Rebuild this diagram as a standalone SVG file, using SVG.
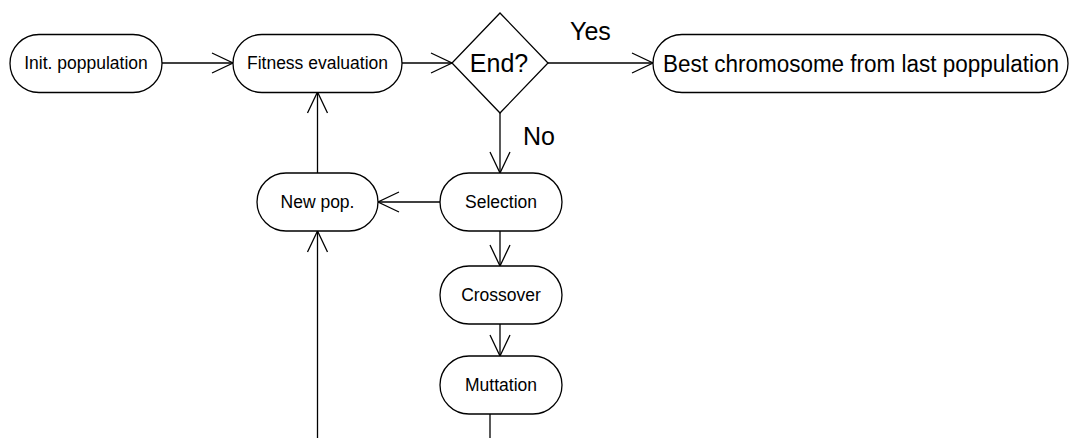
<svg xmlns="http://www.w3.org/2000/svg" width="1069" height="438" viewBox="0 0 1069 438">
<style>
.box{fill:#fff;stroke:#000;stroke-width:1.3}
.t{font-family:"Liberation Sans",Arial,sans-serif;font-size:17.5px;fill:#000;text-anchor:middle}
.big{font-family:"Liberation Sans",Arial,sans-serif;font-size:25px;fill:#000}
.c{fill:none;stroke:#000;stroke-width:1.3}
</style>
<defs>
<marker id="arr" viewBox="-23 -12 25 24" markerWidth="25" markerHeight="24" refX="0" refY="0" orient="auto" markerUnits="userSpaceOnUse">
<path d="M-21,-10 L0,0 L-21,10" fill="none" stroke="#000" stroke-width="1.3"/>
</marker>
</defs>
<rect width="1069" height="438" fill="#fff"/>
<g id="connectors">
<line class="c" x1="162" y1="63" x2="233" y2="63" marker-end="url(#arr)"/>
<line class="c" x1="402" y1="63" x2="452" y2="63" marker-end="url(#arr)"/>
<line class="c" x1="548" y1="63" x2="653" y2="63" marker-end="url(#arr)"/>
<line class="c" x1="500" y1="113" x2="500" y2="173" marker-end="url(#arr)"/>
<line class="c" x1="440" y1="202" x2="378" y2="202" marker-end="url(#arr)"/>
<line class="c" x1="317.5" y1="173" x2="317.5" y2="92" marker-end="url(#arr)"/>
<line class="c" x1="500" y1="231" x2="500" y2="266" marker-end="url(#arr)"/>
<line class="c" x1="500" y1="324" x2="500" y2="356" marker-end="url(#arr)"/>
<line class="c" x1="490" y1="414" x2="490" y2="438"/>
<line class="c" x1="317.5" y1="438" x2="317.5" y2="231" marker-end="url(#arr)"/>
<text class="big" x="570" y="40">Yes</text>
<text class="big" x="523" y="145">No</text>
</g>
<g id="init">
<rect class="box" x="10" y="34.5" width="152" height="58" rx="29"/>
<text class="t" x="86" y="69">Init. poppulation</text>
</g>
<g id="fitness">
<rect class="box" x="233" y="34.5" width="169" height="58" rx="29"/>
<text class="t" x="317.5" y="69">Fitness evaluation</text>
</g>
<g id="end">
<polygon class="box" points="500,13 548,63 500,113 452,63"/>
<text class="big" x="499" y="72" text-anchor="middle">End?</text>
</g>
<g id="best">
<rect class="box" x="653" y="34.5" width="415" height="58" rx="29"/>
<text class="big" x="861" y="72" text-anchor="middle" style="font-size:23px" textLength="396" lengthAdjust="spacingAndGlyphs">Best chromosome from last poppulation</text>
</g>
<g id="newpop">
<rect class="box" x="257" y="173" width="121" height="58" rx="29"/>
<text class="t" x="317.5" y="208">New pop.</text>
</g>
<g id="selection">
<rect class="box" x="440" y="173" width="122" height="58" rx="29"/>
<text class="t" x="501" y="208">Selection</text>
</g>
<g id="crossover">
<rect class="box" x="440" y="266" width="122" height="58" rx="29"/>
<text class="t" x="501" y="301">Crossover</text>
</g>
<g id="mutation">
<rect class="box" x="440" y="356" width="122" height="58" rx="29"/>
<text class="t" x="501" y="391">Muttation</text>
</g>
</svg>
